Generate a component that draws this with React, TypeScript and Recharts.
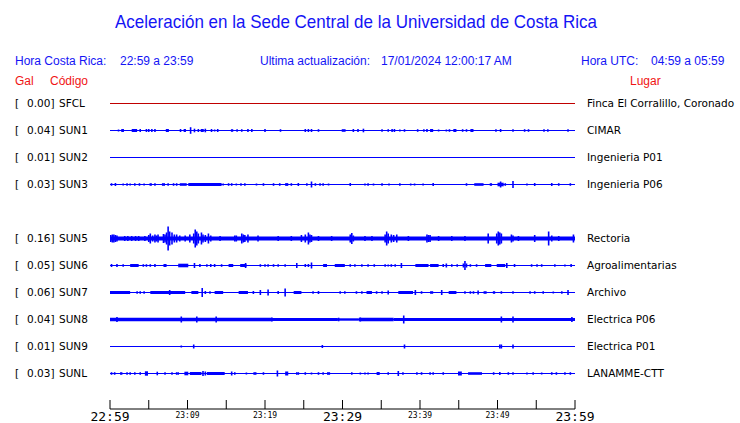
import React from 'react';
import { ComposedChart, XAxis, YAxis, Scatter, ErrorBar, ReferenceLine, ReferenceArea } from 'recharts';

// station order top to bottom; null = empty slot (SUN4 not reporting)
const codes: (string | null)[] = ['SFCL', 'SUN1', 'SUN2', 'SUN3', null, 'SUN5', 'SUN6', 'SUN7', 'SUN8', 'SUN9', 'SUNL'];
const peakGal = [0.0, 0.04, 0.01, 0.03, null, 0.16, 0.05, 0.06, 0.04, 0.01, 0.03];
const places = [
    'Finca El Corralillo, Coronado',
    'CIMAR',
    'Ingenieria P01',
    'Ingenieria P06',
    '',
    'Rectoria',
    'Agroalimentarias',
    'Archivo',
    'Electrica P06',
    'Electrica P01',
    'LANAMME-CTT',
];

// minutes after 22:59 for the time axis
const tickMinutes = [0, 5, 10, 15, 20, 25, 30, 35, 40, 45, 50, 55, 60];
const tickLabels = ['22:59', '', '23:09', '', '23:19', '', '23:29', '', '23:39', '', '23:49', '', '23:59'];

// noisy stretches per trace: [from min, to min, half amplitude]
const sfclBands: number[][] = [];
const sun1Bands = [[1.45, 1.8, 1.5], [2.8, 3.5, 1.5], [7.2, 7.6, 1.5], [9.5, 9.8, 1.5], [11.7, 12.1, 1.5], [15.6, 15.9, 1.3], [29.9, 30.4, 1.3], [41.3, 41.7, 1.5], [44.3, 44.7, 1.5], [46.5, 46.9, 1.5]];
const sun2Bands: number[][] = [];
const sun3Bands = [[5.1, 5.4, 1.3], [6.7, 7.1, 1.3], [9.0, 9.9, 1.3], [10.1, 14.4, 1.4], [16.8, 17.0, 1.3], [22.6, 23.0, 1.4], [47.0, 48.2, 1.3], [49.0, 49.3, 1.3], [50.0, 50.8, 1.8]];
const sun5Bands = [[0, 60, 2]];
const sun6Bands = [[2.6, 3.7, 1.5], [6.9, 7.3, 1.5], [8.8, 10.1, 1.8], [15.3, 15.9, 1.5], [16.8, 17.6, 1.5], [27.5, 28.0, 1.5], [29.0, 30.3, 1.5], [39.4, 41.1, 1.5], [41.3, 42.4, 1.5], [48.4, 49.2, 1.5], [49.9, 51.0, 1.5]];
const sun7Bands = [[0, 2.6, 1.5], [5.2, 9.7, 1.5], [10.5, 11.4, 1.5], [13.5, 14.6, 1.5], [16.6, 17.8, 1.5], [23.7, 24.7, 1.5], [33.1, 33.8, 1.5], [37.2, 39.1, 1.5], [41.3, 41.7, 1.3], [43.7, 44.7, 1.5], [48.2, 48.6, 1.3], [49.4, 49.7, 1.3]];
const sun8Bands = [[0, 20.9, 1.7], [20.9, 29.4, 1.5], [29.4, 32.1, 1.2], [32.1, 36.6, 1.7], [36.6, 60, 1.5]];
const sun9Bands: number[][] = [];
const sunlBands = [[1.3, 1.6, 1.3], [4.5, 4.9, 2.2], [6.0, 6.2, 1.8], [9.6, 10.1, 1.8], [10.3, 11.8, 1.5], [12.5, 14.8, 1.5], [18.5, 18.9, 1.3], [22.6, 23.0, 2], [28.0, 28.4, 1.3], [34.4, 34.8, 1.5], [44.9, 45.4, 2], [46.2, 48.0, 1.3]];

// single bursts per trace: [minute, half amplitude]
const sfclSpikes: number[][] = [];
const sun1Spikes = [[1.1, 1], [3.9, 1.5], [4.7, 1.5], [5.0, 1.5], [5.4, 1.5], [5.8, 1.5], [9.1, 1.5], [10.4, 3.3], [10.9, 1.8], [11.4, 1.5], [12.3, 1.8], [13.1, 1.5], [13.5, 1], [13.9, 1.5], [16.4, 1.3], [17.0, 1.3], [17.8, 1.5], [18.3, 1.5], [20.0, 1.5], [22.0, 1.3], [25.2, 1.5], [25.6, 1.5], [26.0, 1.5], [26.9, 1.3], [31.4, 1.5], [32.0, 1.5], [32.7, 1.8], [35.1, 1.3], [35.9, 1.3], [36.4, 1.5], [36.7, 1.5], [37.4, 1], [38.0, 1.3], [39.7, 1.3], [40.5, 1.3], [40.9, 1.5], [42.4, 1], [43.4, 1], [43.8, 1.3], [45.5, 1.3], [46.0, 1.3], [49.8, 1.3], [50.4, 1.5], [52.0, 1.3], [53.5, 1.3], [54.0, 1.3], [56.0, 1.3], [56.5, 1.3], [59.1, 1.3]];
const sun2Spikes: number[][] = [];
const sun3Spikes = [[0.2, 1.3], [0.7, 1.5], [1.7, 1], [2.2, 1.3], [2.6, 1], [3.2, 1.3], [3.8, 1.3], [4.4, 1], [5.8, 1.3], [7.5, 1.3], [8.2, 1.3], [8.6, 1.3], [14.6, 1], [15.3, 1.3], [15.7, 1.3], [16.3, 1], [17.4, 1.3], [18.9, 1], [19.8, 1.3], [21.1, 1.3], [21.9, 1.3], [23.4, 1.3], [24.3, 1.5], [25.4, 1.3], [26.0, 3], [26.5, 1.3], [27.1, 1.3], [27.5, 1.3], [28.2, 1], [31.0, 1.5], [32.9, 1], [33.3, 1.3], [34.0, 1], [35.1, 1.3], [36.0, 1], [37.4, 1.3], [38.8, 1], [39.3, 1], [40.4, 1], [41.7, 1.5], [46.0, 1.3], [50.4, 3], [51.0, 1.3], [52.0, 3.5], [53.8, 1], [54.8, 1.5], [57.0, 1.5], [57.9, 1.3], [59.4, 1.3]];
const sun5Spikes = [[0.1, 3.5], [0.3, 4], [0.5, 4], [0.7, 3.5], [0.9, 3], [1.9, 2.5], [2.3, 2.5], [2.8, 2.5], [3.3, 2.5], [3.7, 2.5], [4.5, 2.5], [5.0, 3.5], [5.2, 5], [5.5, 3], [5.8, 4], [6.0, 3], [6.2, 4], [6.9, 4.5], [7.1, 4], [7.3, 6], [7.5, 12], [7.7, 7], [8.0, 6], [8.3, 4], [8.6, 4], [9.0, 3], [9.7, 3], [10.3, 4], [10.8, 5], [11.0, 9], [11.2, 7], [11.4, 5], [11.8, 6], [12.0, 4], [12.3, 3.5], [12.7, 5], [13.0, 3], [14.2, 2.5], [16.1, 3], [16.3, 3], [17.0, 5], [17.2, 4], [17.4, 3.5], [17.8, 4], [19.1, 3], [21.7, 2.5], [23.4, 2.5], [24.7, 3.5], [25.2, 4], [25.6, 6], [25.8, 4], [26.0, 3.5], [26.9, 2.5], [28.6, 2.5], [31.0, 4], [31.2, 5.5], [31.4, 3], [32.9, 2.5], [33.8, 2.5], [35.5, 4], [35.7, 7], [35.9, 5], [36.3, 4], [36.6, 3.5], [37.0, 4], [38.5, 2.5], [40.9, 4], [41.1, 3.5], [41.3, 3.5], [42.4, 2.5], [44.1, 2.5], [45.8, 2.5], [48.8, 5], [49.9, 5], [50.1, 7], [50.3, 6], [50.5, 5], [51.8, 4], [52.0, 3], [52.7, 2.5], [54.8, 3.5], [56.6, 7], [57.0, 3], [57.9, 2.5], [59.8, 4]];
const sun6Spikes = [[0.2, 1.5], [0.9, 1.5], [1.7, 1.3], [4.3, 1.3], [4.7, 1.3], [5.2, 1.3], [5.8, 1.5], [10.9, 2.5], [11.6, 1.5], [12.5, 1.3], [13.0, 1.5], [13.5, 1.5], [14.4, 1.3], [17.5, 2.5], [19.4, 1.3], [20.0, 1.3], [20.4, 1.3], [21.1, 1.3], [21.7, 1.3], [22.6, 1.3], [24.1, 2.5], [25.2, 1.5], [25.6, 1.5], [26.0, 3], [31.0, 1.3], [31.6, 1.3], [32.5, 1.3], [33.3, 1.3], [34.1, 1.3], [35.5, 1.3], [35.9, 1], [36.3, 1.3], [36.8, 1.3], [37.6, 2.5], [43.0, 1.5], [43.4, 2], [44.1, 1.3], [44.8, 1.3], [45.6, 2], [45.8, 4.5], [46.0, 2], [46.5, 1.3], [47.3, 1.3], [51.2, 2.5], [52.2, 1.5], [54.4, 1.3], [55.1, 1.3], [55.7, 1.3], [57.4, 1.3], [58.7, 1], [59.5, 1.5]];
const sun7Spikes = [[3.5, 1.3], [3.9, 1.3], [4.4, 1.3], [7.7, 2.5], [11.9, 4.5], [12.3, 1.5], [12.9, 1.3], [18.5, 1.5], [19.4, 2.5], [20.4, 3], [21.7, 1.5], [22.6, 4], [26.2, 1.3], [26.9, 1.5], [29.7, 1.3], [30.3, 1.3], [31.8, 1.3], [32.5, 1.3], [34.4, 1.3], [35.1, 1.3], [35.9, 2], [39.4, 2.5], [40.2, 1.3], [42.8, 2.5], [45.8, 1.3], [46.5, 1.3], [46.9, 1.3], [47.5, 2], [50.5, 1.3], [52.0, 1.3], [54.2, 1.3], [54.8, 1.3], [55.9, 1.3], [57.2, 1], [58.3, 1.3], [59.1, 2.5]];
const sun8Spikes = [[0.9, 2.5], [9.2, 3], [11.2, 3], [13.7, 3], [20.9, 2], [29.5, 1.8], [32.3, 2], [37.9, 4], [50.5, 3], [52.0, 3], [59.6, 2.5]];
const sun9Spikes = [[9.2, 1], [10.8, 2], [27.4, 1.5], [38.0, 2], [50.3, 2], [50.5, 2], [52.0, 2]];
const sunlSpikes = [[0.2, 1.3], [0.6, 1.3], [2.2, 1.3], [2.6, 1.3], [3.2, 1.3], [3.9, 1.3], [7.1, 1.3], [8.0, 1.3], [8.6, 1.3], [8.8, 1.3], [12.0, 2.5], [12.3, 2], [15.7, 2], [16.1, 1.3], [17.6, 1], [19.8, 1.3], [21.6, 3], [24.1, 1.3], [24.3, 1.3], [25.2, 1.3], [26.0, 1], [26.9, 1.3], [27.5, 1.3], [31.2, 1.3], [32.3, 1], [32.9, 1], [33.3, 1], [35.9, 1.3], [37.2, 2.5], [37.8, 1.3], [39.6, 1.3], [40.2, 1.3], [41.3, 1.3], [41.7, 1.3], [43.0, 1.3], [49.5, 1.3], [50.3, 1.5], [51.4, 1.3], [52.0, 1.3], [53.8, 1], [54.6, 1.3], [55.7, 1], [57.0, 1.3], [57.6, 1.3], [58.7, 1.3], [59.4, 1.3]];

const bands = [sfclBands, sun1Bands, sun2Bands, sun3Bands, [], sun5Bands, sun6Bands, sun7Bands, sun8Bands, sun9Bands, sunlBands];
const spikes = [sfclSpikes, sun1Spikes, sun2Spikes, sun3Spikes, [], sun5Spikes, sun6Spikes, sun7Spikes, sun8Spikes, sun9Spikes, sunlSpikes];

const BLUE = '#0000ff';
const RED = '#c00000';
const TEXT_BLUE = '#1414f5';
const TEXT_RED = '#f01414';

const PLOT_TOP = 90;
const ROW_GAP = 27;
// half-pixel offset keeps the 1px baselines crisp
const rowBase = (slot: number) => 13.5 + slot * ROW_GAP;

const NoDot = () => <g />;

const TimeTick = (props: any) => {
    const { x, y, index } = props;
    const label = tickLabels[index];
    const big = index % 6 === 0;
    return (
        <g>
            <line x1={x} x2={x} y1={y - 9} y2={y} stroke="#000" strokeWidth={1} />
            {label && (
                <text
                    x={x}
                    y={y + (big ? 12 : 8.5)}
                    textAnchor="middle"
                    fontFamily='"DejaVu Sans Mono", monospace'
                    fontSize={big ? 13 : 8}
                    fill="#000"
                >
                    {label}
                </text>
            )}
        </g>
    );
};

const abs = (left: number, top: number, extra: React.CSSProperties = {}): React.CSSProperties => ({
    position: 'absolute',
    left,
    top,
    whiteSpace: 'pre',
    lineHeight: '14px',
    ...extra,
});

export default function App() {
    const header = { fontFamily: '"Liberation Sans", Arial, sans-serif', fontSize: 12, color: TEXT_BLUE };
    const redHead = { ...header, color: TEXT_RED };
    const rowFont = { fontFamily: '"DejaVu Sans", sans-serif', fontSize: 10.5, color: '#000' };

    return (
        <div style={{ position: 'absolute', left: 0, top: 0, width: 740, height: 423, background: '#fff', overflow: 'hidden' }}>
            <div
                style={{
                    position: 'absolute',
                    left: 0,
                    top: 12,
                    width: 712,
                    textAlign: 'center',
                    fontFamily: '"Liberation Sans", Arial, sans-serif',
                    fontSize: 17,
                    lineHeight: '20px',
                    color: TEXT_BLUE,
                    transform: 'scaleY(1.12)',
                }}
            >
                Aceleración en la Sede Central de la Universidad de Costa Rica
            </div>

            <div style={abs(15, 54, header)}>Hora Costa Rica:</div>
            <div style={abs(120, 54, header)}>22:59 a 23:59</div>
            <div style={abs(260, 54, header)}>Ultima actualización:</div>
            <div style={abs(381, 54, header)}>17/01/2024 12:00:17 AM</div>
            <div style={abs(581, 54, header)}>Hora UTC:</div>
            <div style={abs(651, 54, header)}>04:59 a 05:59</div>

            <div style={abs(15, 74, redHead)}>Gal</div>
            <div style={abs(50, 74, redHead)}>Código</div>
            <div style={abs(630, 74, redHead)}>Lugar</div>

            {codes.map((code, slot) => {
                if (!code) return null;
                const top = PLOT_TOP + Math.floor(rowBase(slot)) - 7;
                return (
                    <React.Fragment key={code}>
                        <div style={abs(15, top, rowFont)}>[</div>
                        <div style={abs(0, top, { ...rowFont, width: 54.5, textAlign: 'right' })}>
                            {(peakGal[slot] as number).toFixed(2)}]
                        </div>
                        <div style={abs(59, top, rowFont)}>{code}</div>
                        <div style={abs(587, top, rowFont)}>{places[slot]}</div>
                    </React.Fragment>
                );
            })}

            <div style={{ position: 'absolute', left: 0, top: 0 }}>
                <ComposedChart width={740} height={423} margin={{ top: PLOT_TOP, right: 165, bottom: 0, left: 110 }}>
                    <XAxis
                        type="number"
                        dataKey="t"
                        domain={[0, 60]}
                        ticks={tickMinutes}
                        interval={0}
                        height={14}
                        tickSize={0}
                        tickMargin={0}
                        tickLine={false}
                        axisLine={{ stroke: '#000', strokeWidth: 1 }}
                        tick={<TimeTick />}
                        allowDataOverflow
                    />
                    <YAxis hide type="number" dataKey="y" domain={[0, 319]} reversed allowDataOverflow />

                    {codes.map((code, slot) => {
                        if (!code) return null;
                        const base = rowBase(slot);
                        return bands[slot].map(([from, to, h], i) => (
                            <ReferenceArea
                                key={`${code}-band-${i}`}
                                x1={from}
                                x2={to}
                                y1={base - h}
                                y2={base + h}
                                fill={BLUE}
                                fillOpacity={1}
                                stroke="none"
                                ifOverflow="visible"
                            />
                        ));
                    })}

                    {codes.map((code, slot) => {
                        if (!code) return null;
                        return (
                            <ReferenceLine
                                key={`${code}-base`}
                                y={rowBase(slot)}
                                stroke={slot === 0 ? RED : BLUE}
                                strokeWidth={1}
                                ifOverflow="visible"
                            />
                        );
                    })}

                    {codes.map((code, slot) => {
                        if (!code || spikes[slot].length === 0) return null;
                        const base = rowBase(slot);
                        const pts = spikes[slot].map(([t, amp]) => ({ t, y: base, amp }));
                        return (
                            <Scatter
                                key={`${code}-spikes`}
                                name={code}
                                data={pts}
                                dataKey="y"
                                shape={NoDot}
                                isAnimationActive={false}
                            >
                                <ErrorBar
                                    dataKey="amp"
                                    direction="y"
                                    width={0}
                                    stroke={BLUE}
                                    strokeWidth={1.6}
                                    isAnimationActive={false}
                                />
                            </Scatter>
                        );
                    })}
                </ComposedChart>
            </div>
        </div>
    );
}
